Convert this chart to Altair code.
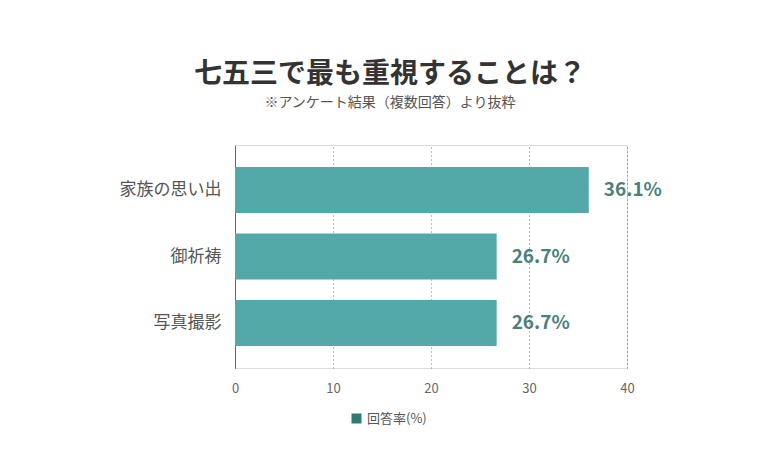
import altair as alt
import pandas as pd

# Survey answers (multiple choice), share of respondents in %
items = ["家族の思い出", "御祈祷", "写真撮影"]
rates = [36.1, 26.7, 26.7]
series = "回答率(%)"

df = pd.DataFrame({"item": items, "rate": rates, "series": [series] * len(items)})
df["label"] = df["rate"].map(lambda v: f"{v:.1f}%")

FONT = "Noto Sans CJK JP"
BAR = "#52a9a8"
LEGEND_SWATCH = "#2e7b76"
LABEL = "#4a7f7c"
TEXT = "#555555"

y_enc = alt.Y(
    "item:N",
    sort=items,
    title=None,
    scale=alt.Scale(paddingInner=0.31, paddingOuter=0.33),
    axis=alt.Axis(
        labelFontSize=17,
        labelColor=TEXT,
        labelFont=FONT,
        labelPadding=14,
        ticks=False,
        domainColor="#666666",
        domainWidth=1,
        grid=False,
    ),
)

x_enc = alt.X(
    "rate:Q",
    title=None,
    scale=alt.Scale(domain=[0, 40], nice=False),
    axis=alt.Axis(
        values=[0, 10, 20, 30, 40],
        labelFontSize=13,
        labelColor="#666666",
        labelFont=FONT,
        labelPadding=14,
        labelFlush=False,
        ticks=False,
        domain=False,
        grid=True,
        gridDash=[1, 3],
        gridColor="#777777",
        gridWidth=1,
    ),
)

bars = alt.Chart(df).mark_bar(color=BAR).encode(x=x_enc, y=y_enc)

# zero-size squares carry the series legend with its darker swatch
legend_keys = alt.Chart(df).mark_point(shape="square", filled=True, size=0, opacity=1).encode(
    x="rate:Q",
    y=alt.Y("item:N", sort=items),
    color=alt.Color(
        "series:N",
        scale=alt.Scale(range=[LEGEND_SWATCH]),
        legend=alt.Legend(
            title=None,
            orient="none",
            legendX=115,
            legendY=267,
            symbolType="square",
            symbolSize=100,
            symbolStrokeWidth=0,
            labelFontSize=13,
            labelColor=TEXT,
            labelFont=FONT,
        ),
    ),
)

labels = alt.Chart(df).mark_text(
    align="left",
    baseline="middle",
    dx=15,
    fontSize=19,
    fontWeight="bold",
    font=FONT,
    color=LABEL,
).encode(x="rate:Q", y=alt.Y("item:N", sort=items), text="label:N")

chart = (
    alt.layer(bars, legend_keys, labels)
    .properties(
        width=392,
        height=223,
        autosize=alt.AutoSizeParams(type="none"),
        padding={"left": 235, "top": 145, "right": 153, "bottom": 100},
        title=alt.TitleParams(
            text="七五三で最も重視することは？",
            subtitle="※アンケート結果（複数回答）より抜粋",
            anchor="middle",
            dx=-41,
            offset=35,
            font=FONT,
            fontSize=28,
            fontWeight="bold",
            color="#333333",
            subtitleFont=FONT,
            subtitleFontSize=14,
            subtitleColor=TEXT,
            subtitlePadding=7,
        ),
    )
    .configure_view(stroke=None)
    .configure(background="white")
)

chart.save("out.html", embed_options={"renderer": "svg", "actions": False})
